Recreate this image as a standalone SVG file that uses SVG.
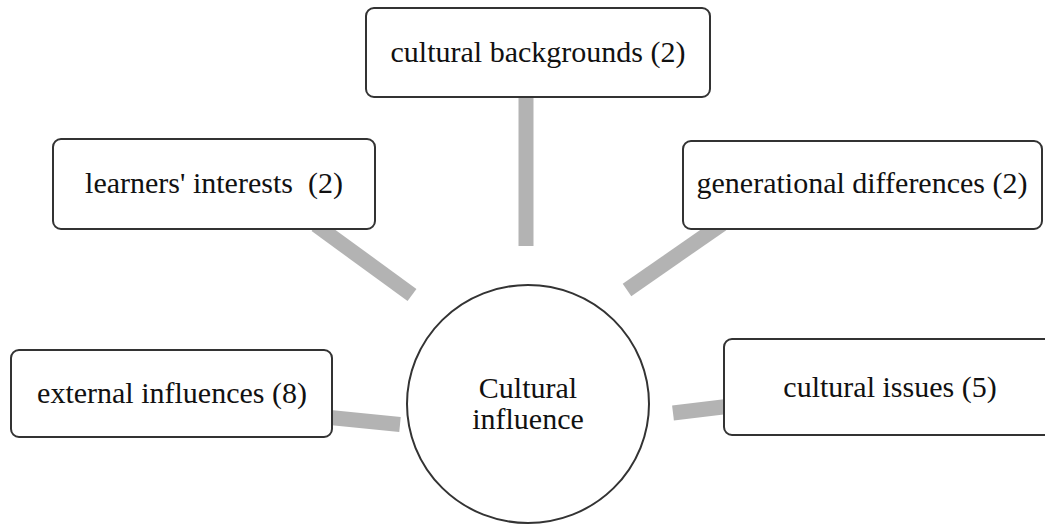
<svg xmlns="http://www.w3.org/2000/svg" width="1045" height="524" viewBox="0 0 1045 524">
<style>
.box{fill:#fff;stroke:#333;stroke-width:2}
.lbl{font-family:"Liberation Serif","Times New Roman",serif;font-size:30px;fill:#111;text-anchor:middle;white-space:pre}
.conn{stroke:#b3b3b3;stroke-width:15;fill:none;stroke-linecap:butt}
</style>
<rect width="1045" height="524" fill="#fff"/>
<g id="connectors">
<line class="conn" x1="526" y1="92" x2="526" y2="246"/>
<line class="conn" x1="316" y1="225" x2="412" y2="295"/>
<line class="conn" x1="627" y1="290" x2="722" y2="224"/>
<line class="conn" x1="325" y1="417" x2="400" y2="424.5"/>
<line class="conn" x1="673" y1="413" x2="731" y2="406"/>
</g>
<g id="center">
<ellipse class="box" cx="528" cy="404" rx="121" ry="119"/>
<text class="lbl" x="528" y="398">Cultural</text>
<text class="lbl" x="528" y="429">influence</text>
</g>
<g id="node-backgrounds">
<rect class="box" x="366" y="8" width="344" height="89" rx="8"/>
<text class="lbl" x="538" y="62">cultural backgrounds (2)</text>
</g>
<g id="node-learners">
<rect class="box" x="53" y="139" width="322" height="90" rx="8"/>
<text class="lbl" x="214" y="193">learners' interests  (2)</text>
</g>
<g id="node-generational">
<rect class="box" x="683" y="141" width="359" height="88" rx="8"/>
<text class="lbl" x="862" y="193">generational differences (2)</text>
</g>
<g id="node-external">
<rect class="box" x="11" y="350" width="321" height="87" rx="8"/>
<text class="lbl" x="172" y="403">external influences (8)</text>
</g>
<g id="node-issues">
<rect class="box" x="724" y="339" width="334" height="96" rx="8"/>
<text class="lbl" x="890" y="397">cultural issues (5)</text>
</g>
</svg>
